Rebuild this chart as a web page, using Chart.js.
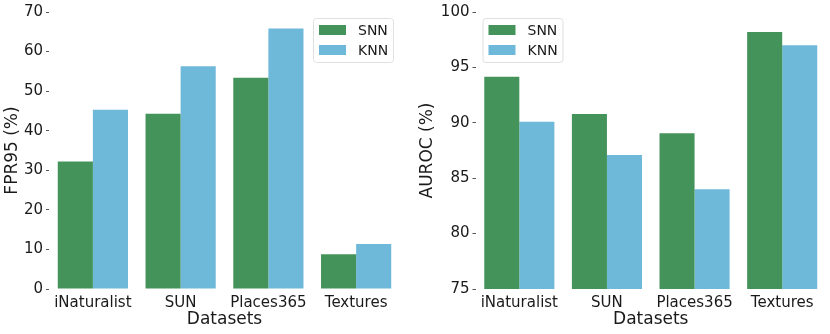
<!DOCTYPE html>
<html>
<head>
<meta charset="utf-8">
<script src="https://cdn.jsdelivr.net/npm/chart.js@4.4.1/dist/chart.umd.min.js"></script>
<style>
  body { margin: 0; background: #fff; }
  .wrap { position: relative; width: 830px; height: 334px; }
  canvas { position: absolute; top: 0; }
</style>
</head>
<body>
<div class="wrap">
  <canvas id="fpr" width="415" height="334" style="left:0"></canvas>
  <canvas id="auroc" width="415" height="334" style="left:415px"></canvas>
</div>
<script>
const datasets = ['iNaturalist', 'SUN', 'Places365', 'Textures'];
const fprSNN = [32.2, 44.3, 53.4, 8.8];
const fprKNN = [45.3, 56.3, 65.8, 11.4];
const aurocSNN = [94.15, 90.8, 89.05, 98.2];
const aurocKNN = [90.1, 87.1, 84.0, 97.0];
const fprTicks = [0, 10, 20, 30, 40, 50, 60, 70];
const aurocTicks = [75, 80, 85, 90, 95, 100];

const GREEN = '#44935a';
const BLUE = '#6eb8da';
const FONT = 'DejaVu Sans';
const TEXT = '#1a1a1a';

// legend box drawn inside the plot area, like matplotlib
const boxLegend = {
  id: 'boxLegend',
  afterDraw(chart, args, opts) {
    const ctx = chart.ctx;
    const a = chart.chartArea;
    const w = 80, h = 44;
    const x = opts.side === 'right' ? a.right - 7 - w : a.left + 7;
    const y = a.top + 6;
    ctx.save();
    ctx.fillStyle = 'rgba(255,255,255,0.8)';
    ctx.strokeStyle = '#e0e0e0';
    ctx.lineWidth = 1;
    ctx.beginPath();
    ctx.roundRect(x + 0.5, y + 0.5, w, h, 3);
    ctx.fill();
    ctx.stroke();
    ctx.font = '14px ' + FONT;
    ctx.textBaseline = 'middle';
    chart.data.datasets.forEach((ds, i) => {
      const ry = y + 12 + i * 20;
      ctx.fillStyle = ds.backgroundColor;
      ctx.fillRect(x + 6, ry - 5, 27, 10);
      ctx.fillStyle = TEXT;
      ctx.fillText(ds.label, x + 45, ry + 1);
    });
    ctx.restore();
  }
};

function makeChart(id, snn, knn, ticks, yTitle, yWidth, padRight, side) {
  new Chart(document.getElementById(id), {
    type: 'bar',
    data: {
      labels: datasets,
      datasets: [
        { label: 'SNN', data: snn, backgroundColor: GREEN },
        { label: 'KNN', data: knn, backgroundColor: BLUE }
      ]
    },
    options: {
      responsive: false,
      animation: false,
      layout: { padding: { top: 11, right: padRight, bottom: 0, left: 0 } },
      datasets: { bar: { categoryPercentage: 0.8, barPercentage: 1.0, borderWidth: 0 } },
      plugins: {
        legend: { display: false },
        tooltip: { enabled: false },
        boxLegend: { side: side }
      },
      scales: {
        x: {
          grid: { display: false, drawTicks: false },
          border: { display: false },
          ticks: { color: TEXT, font: { family: FONT, size: 15 }, padding: 5, maxRotation: 0 },
          title: { display: true, text: 'Datasets', color: TEXT,
                   font: { family: FONT, size: 17 }, padding: { top: 0, bottom: 4 } },
          afterFit(scale) { scale.height = 45; }
        },
        y: {
          min: ticks[0],
          max: ticks[ticks.length - 1],
          afterBuildTicks(scale) { scale.ticks = ticks.map(v => ({ value: v })); },
          grid: { drawOnChartArea: false, drawTicks: true, tickLength: 3, color: '#555' },
          border: { display: false },
          ticks: { color: TEXT, font: { family: FONT, size: 15 }, padding: 3 },
          title: { display: true, text: yTitle, color: TEXT,
                   font: { family: FONT, size: 17 }, padding: { top: 2, bottom: 0 } },
          afterFit(scale) { scale.width = yWidth; }
        }
      }
    },
    plugins: [boxLegend]
  });
}

makeChart('fpr', fprSNN, fprKNN, fprTicks, 'FPR95 (%)', 49, 15, 'right');
makeChart('auroc', aurocSNN, aurocKNN, aurocTicks, 'AUROC (%)', 60.5, 4, 'left');
</script>
</body>
</html>
